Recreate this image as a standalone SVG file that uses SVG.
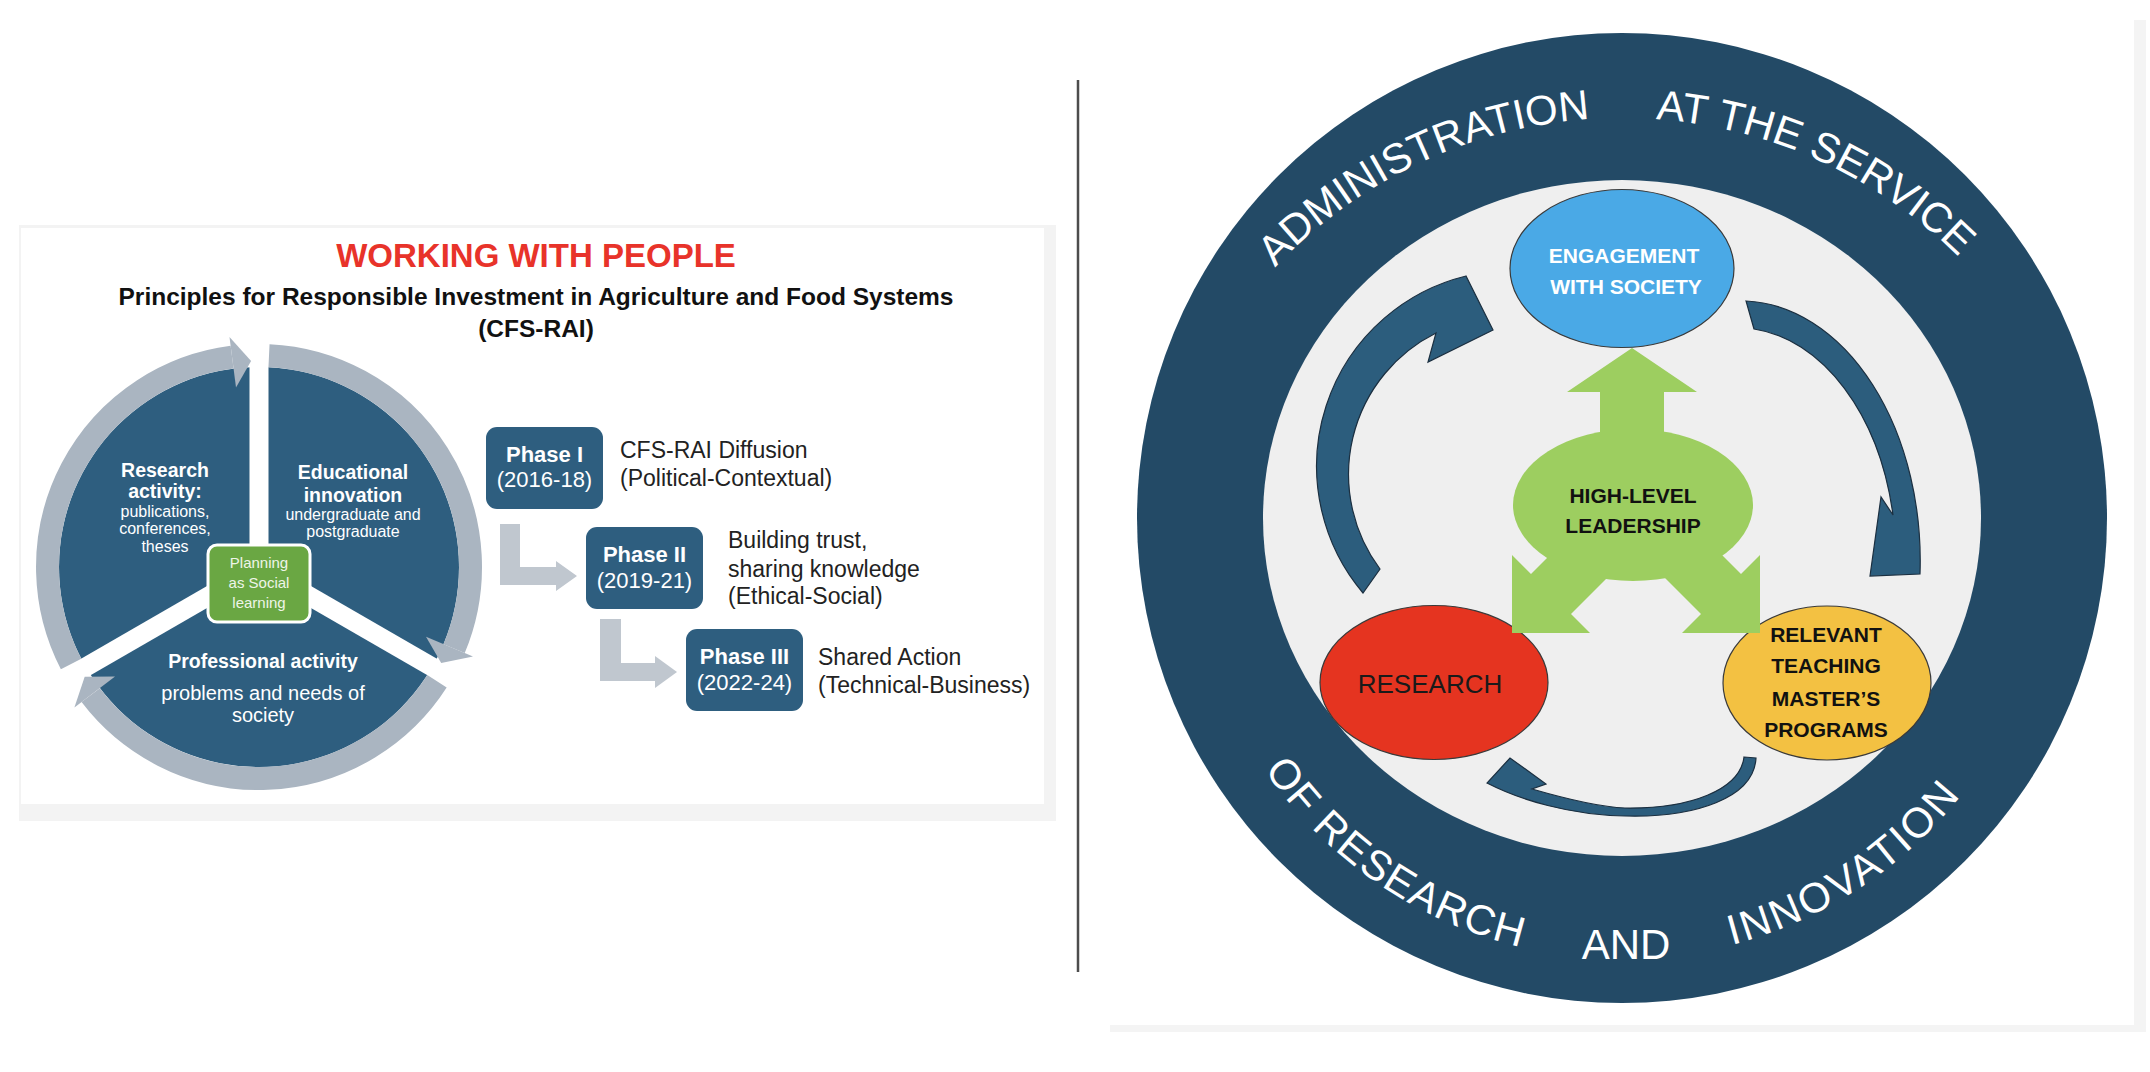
<svg xmlns="http://www.w3.org/2000/svg" width="2150" height="1072" viewBox="0 0 2150 1072">
<defs>
<style>
text{font-family:"Liberation Sans",Arial,sans-serif}
.b{font-weight:bold}
.c{text-anchor:middle}
.pie{fill:#fff;text-anchor:middle}
.desc{font-size:23px;fill:#222}
.ph{font-size:22px;fill:#fff;text-anchor:middle}
.pbox{fill:#2e5e7f}
.ring{fill:none;stroke:#aab5c1;stroke-width:23}
.head{fill:#aab5c1}
.gap{stroke:#fff;stroke-width:19}
.larr{fill:#c0c7cf}
.darr{fill:#2c5d7d;stroke:#1b2f40;stroke-width:1.2}
.ell{stroke:#3a3a3a;stroke-width:1.2}
.rt{font-size:42px;fill:#fff}
.nt{font-size:21px;font-weight:bold;text-anchor:middle}
</style>
<path id="topArc" d="M 1145,595 A 477 477 0 0 1 2099,595"/>
<path id="botArc" d="M 1189,526 A 433 433 0 0 0 2055,526"/>
</defs>
<rect width="2150" height="1072" fill="#fff"/>
<!-- panels -->
<rect x="19" y="225" width="1037" height="596" fill="#f3f3f3"/>
<rect x="21" y="228" width="1023" height="576" fill="#fff"/>
<rect x="1110" y="20" width="1036" height="1012" fill="#f4f4f4"/>
<rect x="1110" y="20" width="1024" height="1005" fill="#fff"/>
<line x1="1078" y1="80" x2="1078" y2="972" stroke="#4d4d4d" stroke-width="2.5"/>

<!-- LEFT PANEL -->
<g id="titles">
<text x="536" y="267" class="b c" font-size="33" fill="#e8332a">WORKING WITH PEOPLE</text>
<text x="536" y="305" class="b c" font-size="24.5" fill="#111">Principles for Responsible Investment in Agriculture and Food Systems</text>
<text x="536" y="337" class="b c" font-size="24.5" fill="#111">(CFS-RAI)</text>
</g>

<g id="cycle">
<circle cx="259" cy="567" r="200" fill="#2e5e7f"/>
<g class="gap">
<line x1="259" y1="567" x2="259" y2="357"/>
<line x1="259" y1="567" x2="440.9" y2="672"/>
<line x1="259" y1="567" x2="77.1" y2="672"/>
</g>
<path class="ring" d="M 71.1,664.0 A 211.5 211.5 0 0 1 232.1,357.2"/>
<path class="ring" d="M 269.0,355.7 A 211.5 211.5 0 0 1 454.1,648.6"/>
<path class="ring" d="M 437.0,681.3 A 211.5 211.5 0 0 1 90.7,695.1"/>
<polygon class="head" points="236.0,387.5 229.5,336.9 251.1,361.1"/>
<polygon class="head" points="426.0,636.8 473.0,656.5 441.2,663.1"/>
<polygon class="head" points="115.0,676.6 74.4,707.5 84.7,676.8"/>
</g>

<g id="research-activity">
<text class="pie b" font-size="19.5"><tspan x="165" y="477">Research</tspan><tspan x="165" y="498">activity:</tspan></text>
<text class="pie" font-size="16"><tspan x="165" y="517">publications,</tspan><tspan x="165" y="534">conferences,</tspan><tspan x="165" y="552">theses</tspan></text>
</g>
<g id="educational-innovation">
<text class="pie b" font-size="19.5"><tspan x="353" y="479">Educational</tspan><tspan x="353" y="502">innovation</tspan></text>
<text class="pie" font-size="16"><tspan x="353" y="520">undergraduate and</tspan><tspan x="353" y="537">postgraduate</tspan></text>
</g>
<g id="professional-activity">
<text class="pie b" font-size="19.5" x="263" y="668">Professional activity</text>
<text class="pie" font-size="20"><tspan x="263" y="700">problems and needs of</tspan><tspan x="263" y="722">society</tspan></text>
</g>
<g id="planning">
<rect x="208" y="545" width="102" height="77" rx="9" fill="#6aa743" stroke="#fff" stroke-width="3"/>
<text class="c" font-size="15" fill="#eef5e8"><tspan x="259" y="568">Planning</tspan><tspan x="259" y="588">as Social</tspan><tspan x="259" y="608">learning</tspan></text>
</g>

<g id="phase1">
<rect class="pbox" x="486" y="427" width="117" height="82" rx="11"/>
<text class="ph b" x="544.5" y="462">Phase I</text>
<text class="ph" x="544.5" y="487">(2016-18)</text>
<text class="desc"><tspan x="620" y="458">CFS-RAI Diffusion</tspan><tspan x="620" y="486">(Political-Contextual)</tspan></text>
</g>
<g id="phase2">
<rect class="pbox" x="586" y="527" width="117" height="82" rx="11"/>
<text class="ph b" x="644.5" y="562">Phase II</text>
<text class="ph" x="644.5" y="588">(2019-21)</text>
<text class="desc"><tspan x="728" y="548">Building trust,</tspan><tspan x="728" y="577">sharing knowledge</tspan><tspan x="728" y="604">(Ethical-Social)</tspan></text>
</g>
<g id="phase3">
<rect class="pbox" x="686" y="629" width="117" height="82" rx="11"/>
<text class="ph b" x="744.5" y="664">Phase III</text>
<text class="ph" x="744.5" y="690">(2022-24)</text>
<text class="desc"><tspan x="818" y="665">Shared Action</tspan><tspan x="818" y="693">(Technical-Business)</tspan></text>
</g>

<g id="connectors-left">
<path class="larr" d="M 500,524 L 520,524 L 520,567 L 556,567 L 556,561 L 577,576 L 556,591 L 556,585 L 500,585 Z"/>
<path class="larr" d="M 600,619 L 621,619 L 621,663 L 655,663 L 655,656 L 677,672 L 655,688 L 655,681 L 600,681 Z"/>
</g>

<!-- RIGHT PANEL -->
<g id="frame">
<circle cx="1622" cy="518" r="485" fill="#234a66"/>
<ellipse cx="1622" cy="518" rx="359" ry="338" fill="#efefef"/>
<text class="rt" font-size="39"><textPath href="#topArc" startOffset="539" text-anchor="middle">ADMINISTRATION</textPath></text>
<text class="rt" font-size="41"><textPath href="#topArc" startOffset="953" text-anchor="middle">AT THE SERVICE</textPath></text>
<text class="rt" letter-spacing="1.5"><textPath href="#botArc" startOffset="419" text-anchor="middle">OF RESEARCH</textPath></text>
<text class="rt" letter-spacing="2.5"><textPath href="#botArc" startOffset="931" text-anchor="middle">INNOVATION</textPath></text>
<text class="rt" x="1626" y="959" text-anchor="middle">AND</text>
</g>

<g id="connectors-right">
<path class="darr" d="M 1363,593 A 196 196 0 0 1 1466,276 L 1493,330 L 1428,362 L 1436,333 A 158 158 0 0 0 1380,569 Z"/>
<path class="darr" d="M 1754,329 L 1746,301 A 180 260 0 0 1 1920,574 L 1870,576 L 1881,497 L 1893,515 A 158 232 0 0 0 1754,329 Z"/>
<path class="darr" d="M 1744,757 L 1756,758 C 1754,798 1695,818 1625,816 C 1570,815 1520,800 1487,783 L 1510,758 L 1546,784 L 1532,789 C 1570,800 1600,807 1625,808 C 1690,809 1740,790 1744,757 Z"/>
</g>

<g id="engagement">
<ellipse class="ell" cx="1622" cy="268.5" rx="112" ry="79" fill="#4aa9e6"/>
<text class="nt" fill="#fff"><tspan x="1624" y="263">ENGAGEMENT</tspan><tspan x="1626" y="294">WITH SOCIETY</tspan></text>
</g>
<g id="research">
<ellipse class="ell" cx="1434" cy="682.5" rx="114" ry="77" fill="#e53420"/>
<text x="1430" y="693" class="c" font-size="26" fill="#1a1a1a">RESEARCH</text>
</g>
<g id="teaching">
<ellipse class="ell" cx="1827" cy="683" rx="104" ry="77" fill="#f3c142"/>
<text class="nt" fill="#111"><tspan x="1826" y="642">RELEVANT</tspan><tspan x="1826" y="673">TEACHING</tspan><tspan x="1826" y="706">MASTER’S</tspan><tspan x="1826" y="737">PROGRAMS</tspan></text>
</g>
<g id="leadership">
<g fill="#9dce60">
<ellipse cx="1633" cy="505" rx="120" ry="76"/>
<polygon points="1600,450 1600,392 1567,392 1632,348 1697,392 1664,392 1664,450"/>
<polygon points="1580,525 1531,574 1512,555 1512,633 1590,633 1571,614 1620,565"/>
<polygon points="1692,525 1741,574 1760,555 1760,633 1682,633 1701,614 1652,565"/>
</g>
<text class="nt" fill="#111"><tspan x="1633" y="503">HIGH-LEVEL</tspan><tspan x="1633" y="533">LEADERSHIP</tspan></text>
</g>
</svg>
